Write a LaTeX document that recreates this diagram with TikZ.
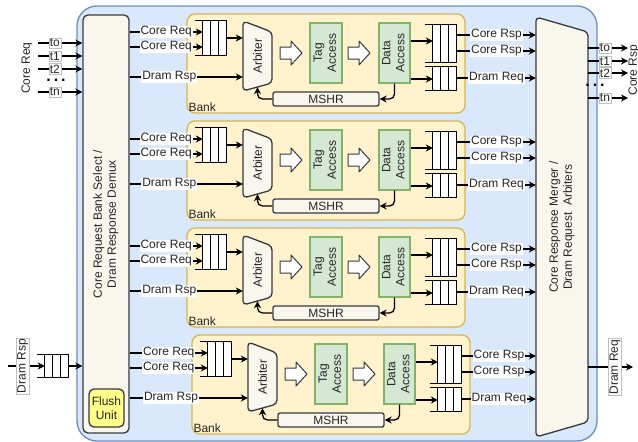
\documentclass[tikz,border=0pt]{standalone}
\usepackage{fontspec}
\setmainfont{Liberation Sans}
\usepackage{graphicx}
\usetikzlibrary{arrows.meta,calc}
\definecolor{cacheblue}{HTML}{DAE8FC}
\definecolor{cacheedge}{HTML}{6C8EBF}
\definecolor{bankfill}{HTML}{FFF2CC}
\definecolor{bankedge}{HTML}{D6B656}
\definecolor{stagefill}{HTML}{D5E8D4}
\definecolor{stageedge}{HTML}{82B366}
\definecolor{unitfill}{HTML}{F9F7ED}
\definecolor{unitedge}{HTML}{36393D}
\definecolor{flushfill}{HTML}{FFFF88}

\newcommand{\fifo}[3]{%
  \node[fifobox, minimum height=#3] (#1) at #2 {};
  \draw[fifoline] ([xshift=-8pt]#1.north west) -- (#1.north east) ([xshift=-8pt]#1.south west) -- (#1.south east);
  \foreach \c in {0,8,16,24} \draw[fifoline] ([xshift=\c pt]#1.north west) -- ([xshift=\c pt]#1.south west);}
\newcommand{\dotrow}{.\hspace{3pt}.\hspace{3pt}.}

\begin{document}
\begin{tikzpicture}[x=1pt, y=-1pt, every node/.style={font=\fontsize{12}{14}\selectfont, text=black!85},
  arr/.style={-{Stealth[length=7pt,width=7pt]}, line width=1.3pt},
  unit/.style={draw=unitedge, fill=unitfill, line width=1.3pt, rounded corners=5pt},
  bankbox/.style={draw=bankedge, fill=bankfill, line width=1.3pt, rounded corners=8pt},
  stage/.style={draw=stageedge, fill=stagefill, line width=1.3pt, inner sep=0pt},
  fifobox/.style={fill=white, minimum width=24pt, inner sep=0pt},
  fifoline/.style={line width=1.3pt},
  lbl/.style={fill=white, inner sep=1pt},
  tlbl/.style={fill=white, draw=black!25, line width=.6pt, inner sep=1pt},
  dots/.style={font=\fontsize{16}{16}\selectfont\bfseries, inner sep=0pt, text=black},
  hollow/.style={draw=unitedge, fill=white, line width=1pt, line join=round}]
\useasboundingbox (0,0) rectangle (638,442);
\draw[draw=cacheedge, fill=cacheblue, line width=1.3pt, rounded corners=20pt] (77,6) rectangle (597,441);

\node[unit, minimum width=46, minimum height=418, inner sep=0pt] (demux) at (106,224) {\rotatebox{90}{\begin{tabular}{@{}c@{}}Core Request Bank Select /\\Dram Response Demux\end{tabular}}};
\node[unit, fill=flushfill, minimum width=35, minimum height=38, align=center, inner sep=0pt] (flush) at (106.5,408) {Flush\\Unit};

\draw[unit, rounded corners=4pt] (536,17) -- (588,32) -- (588,422) -- (536,437) -- cycle;
\node[minimum width=52, minimum height=420, inner sep=0pt] (merger) at (562,227) {\rotatebox{90}{\begin{tabular}{@{}c@{}}Core Response Merger /\\Dram Request\ \ Arbiters\end{tabular}}};

\foreach \i/\dx/\dy in {1/0/0,2/0/107,3/0/214,4/5/321}{
\begin{scope}[shift={(\dx,\dy)}]
\node[bankbox, minimum width=278, minimum height=99] (bank\i) at (326,63.5) {};
\node[anchor=south west, inner sep=2pt] (bl\i) at (bank\i.south west) {Bank};
\fifo{fi\i}{(215,38)}{34}
\draw[unit, rounded corners=4pt] (243,21) -- (272,32) -- (272,83) -- (243,91) -- cycle;
\node[minimum width=29, minimum height=70, inner sep=0pt] (arb\i) at (257.5,56) {\rotatebox{90}{Arbiter}};
\draw[hollow] (280,47) -- ++(11,0) -- ++(0,-6) -- ++(11,12) -- ++(-11,12) -- ++(0,-6) -- ++(-11,0) -- cycle;
\node[stage, minimum width=32, minimum height=60] (tag\i) at (326,53) {\rotatebox{90}{\begin{tabular}{@{}c@{}}Tag\\Access\end{tabular}}};
\draw[hollow] (348,47) -- ++(11,0) -- ++(0,-6) -- ++(11,12) -- ++(-11,12) -- ++(0,-6) -- ++(-11,0) -- cycle;
\node[stage, minimum width=31, minimum height=60] (dat\i) at (394.5,53) {\rotatebox{90}{\begin{tabular}{@{}c@{}}Data\\Access\end{tabular}}};
\fifo{fo\i}{(445,43.5)}{37}
\fifo{fq\i}{(445,78.5)}{23}
\node[unit, rounded corners=2pt, minimum width=106, minimum height=14, inner sep=0pt] (mshr\i) at (326,99) {MSHR};
\draw[arr] (demux.east |- 0,32) -- node[lbl]{Core Req} (fi\i.west |- 0,32);
\draw[arr] (demux.east |- 0,47) -- node[lbl]{Core Req} (fi\i.west |- 0,47);
\draw[arr] (demux.east |- 0,77) -- node[lbl, pos=.35]{Dram Rsp} (arb\i.west |- 0,77);
\draw[arr] (fi\i.east) -- (arb\i.west |- fi\i.east);
\draw[arr] (dat\i.east |- 0,41) -- (fo\i.west |- 0,41);
\draw[arr] (dat\i.east |- 0,79) -- (fq\i.west |- 0,79);
\draw[arr, rounded corners=5pt] (dat\i.south) |- (mshr\i.east);
\draw[arr, rounded corners=5pt] (mshr\i.west) -| ([yshift=4pt]arb\i.south);
\draw[arr] (fo\i.east |- 0,35) -- node[lbl]{Core Rsp} (merger.west |- 0,35);
\draw[arr] (fo\i.east |- 0,51) -- node[lbl]{Core Rsp} (merger.west |- 0,51);
\draw[arr] (fq\i.east |- 0,78) -- node[lbl]{Dram Req} (merger.west |- 0,78);
\end{scope}}

\node[rotate=90] (creq) at (27,68) {Core Req};
\foreach \t/\y in {to/43,t1/56,t2/69,tn/92}{
  \coordinate (cin-\t) at (38,\y);
  \draw[arr] (cin-\t) -- node[tlbl, pos=.38]{\t} (demux.west |- cin-\t);}
\node[dots] (cdots) at (56,80) {\dotrow};

\foreach \t/\y in {to/48,t1/61,t2/73,tn/98}{
  \coordinate (cout-\t) at (628,\y);
  \draw[arr] (merger.east |- cout-\t) -- node[tlbl, pos=.42]{\t} (cout-\t);}
\node[dots] (rdots) at (595,85) {\dotrow};
\node[rotate=90] (crsp) at (634,70) {Core Rsp};

\coordinate (dsrc) at (8,366);
\fifo{dfifo}{(57,366)}{23}
\draw[arr] (dsrc) -- node[tlbl, rotate=90, pos=.4]{Dram Rsp} (dfifo.west);
\draw[arr] (dfifo.east) -- (demux.west |- dfifo.east);

\coordinate (dout) at (633,367);
\draw[arr] (merger.east |- dout) -- node[tlbl, rotate=90, pos=.6]{Dram Req} (dout);
\end{tikzpicture}
\end{document}
